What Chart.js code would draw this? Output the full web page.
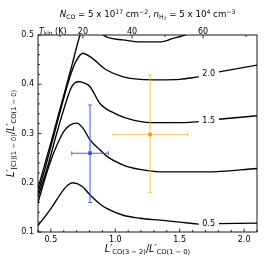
<!DOCTYPE html>
<html><head><meta charset="utf-8">
<script src="https://cdn.jsdelivr.net/npm/chart.js@4/dist/chart.umd.min.js"></script>
<style>html,body{margin:0;padding:0;background:#fff}canvas{display:block}</style>
</head><body>
<canvas id="c" width="266" height="266"></canvas>
<script>
// ---- contour curves (x = L'CO(3-2)/L'CO(1-0), y = L'[CI]/L'CO(1-0)); null = label gap
const curveA_x = [0.40, 0.493, 0.596, 0.63, 0.668, 0.742, 0.804, 0.881, 0.933, 1.062, 1.192, 1.347, 1.50, 1.648, 1.725, 1.805, 2.10];
const curveA_y = [0.113, 0.145, 0.185, 0.195, 0.200, 0.193, 0.175, 0.157, 0.148, 0.134, 0.128, 0.124, 0.120, 0.116, null, 0.117, 0.118];
const curveB_x = [0.40, 0.447, 0.493, 0.548, 0.602, 0.648, 0.700, 0.749, 0.804, 0.881, 0.933, 1.062, 1.192, 1.347, 1.45, 1.71, 2.10];
const curveB_y = [0.160, 0.202, 0.240, 0.277, 0.305, 0.317, 0.321, 0.311, 0.287, 0.267, 0.254, 0.236, 0.227, 0.222, 0.222, 0.222, 0.229];
const curveC_x = [0.40, 0.478, 0.548, 0.623, 0.656, 0.687, 0.718, 0.765, 0.804, 0.881, 1.011, 1.140, 1.270, 1.502, 1.648, 1.725, 1.805, 2.10];
const curveC_y = [0.171, 0.236, 0.303, 0.368, 0.392, 0.403, 0.405, 0.402, 0.395, 0.361, 0.339, 0.327, 0.322, 0.322, 0.324, null, 0.329, 0.336];
const curveD_x = [0.40, 0.462, 0.532, 0.596, 0.648, 0.695, 0.749, 0.804, 0.933, 1.062, 1.192, 1.347, 1.502, 1.648, 1.725, 1.805, 2.10];
const curveD_y = [0.179, 0.236, 0.305, 0.368, 0.415, 0.447, 0.463, 0.456, 0.429, 0.415, 0.410, 0.409, 0.410, 0.415, null, 0.425, 0.439];
const curveE_x = [0.40, 0.493, 0.586, 0.664, 0.726, 0.78, 0.84, 0.905, 1.06, 1.192, 1.347, 1.448, 1.541, 1.70, 2.10];
const curveE_y = [0.189, 0.275, 0.364, 0.439, 0.500, 0.535, 0.530, 0.500, 0.490, 0.486, 0.486, 0.493, 0.500, 0.515, 0.540];

// contour level labels
const levelText = ['0.5', '1.5', '2.0'];
const levelX = [1.725, 1.725, 1.725];
const levelY = [0.117, 0.326, 0.421];

// observed points with error bars
const obsX = [0.804, 1.270];
const obsY = [0.260, 0.298];
const obsXLo = [0.662, 0.985];
const obsXHi = [0.946, 1.562];
const obsYLo = [0.160, 0.180];
const obsYHi = [0.358, 0.419];

// tick labels
const xMajorTicks = [0.5, 1.0, 1.5, 2.0];
const yMajorTicks = [0.1, 0.2, 0.3, 0.4, 0.5];
const tkinValues = [10, 20, 30, 40, 50, 60, 70];
const tkinAtRatio = [0.571, 0.749, 0.928, 1.130, 1.386, 1.681, 2.015];
const tkinLabelled = [20, 40, 60];

const FONT = '"DejaVu Sans", Verdana, sans-serif';
const markerColors = ['#2f52e8', '#f99d12'];
const barColors = ['rgba(55,90,238,0.92)', 'rgba(255,180,70,0.78)'];

function pts(xs, ys) { return xs.map((x, i) => ({ x: x, y: ys[i] })); }
function curveDs(xs, ys) {
  return { type: 'line', data: pts(xs, ys), borderColor: '#000', borderWidth: 1.35, pointRadius: 0,
    cubicInterpolationMode: 'monotone', spanGaps: false, fill: false };
}

function drawRich(ctx, segs, x, y, align) {
  let w = 0;
  segs.forEach(s => { ctx.font = (s.i ? 'italic ' : '') + s.s + 'px ' + FONT; s.w = ctx.measureText(s.t).width; w += s.w; });
  let cx = align === 'center' ? x - w / 2 : x;
  ctx.textAlign = 'left'; ctx.textBaseline = 'alphabetic';
  segs.forEach(s => { ctx.font = (s.i ? 'italic ' : '') + s.s + 'px ' + FONT; ctx.fillText(s.t, cx, y + (s.dy || 0)); cx += s.w; });
}

const decor = {
  id: 'decor',
  beforeDatasetDraw(chart, args) {
    if (args.index !== 0) return;
    const ctx = chart.ctx, xs = chart.scales.x, ys = chart.scales.y;
    ctx.save();
    ctx.lineWidth = 1.1;
    for (let i = 0; i < obsX.length; i++) {
      ctx.strokeStyle = barColors[i];
      const px = xs.getPixelForValue(obsX[i]), py = ys.getPixelForValue(obsY[i]);
      const x1 = xs.getPixelForValue(obsXLo[i]), x2 = xs.getPixelForValue(obsXHi[i]);
      const y1 = ys.getPixelForValue(obsYLo[i]), y2 = ys.getPixelForValue(obsYHi[i]);
      ctx.beginPath();
      ctx.moveTo(x1, py); ctx.lineTo(x2, py);
      ctx.moveTo(px, y1); ctx.lineTo(px, y2);
      ctx.moveTo(x1, py - 2); ctx.lineTo(x1, py + 2);
      ctx.moveTo(x2, py - 2); ctx.lineTo(x2, py + 2);
      ctx.moveTo(px - 2, y1); ctx.lineTo(px + 2, y1);
      ctx.moveTo(px - 2, y2); ctx.lineTo(px + 2, y2);
      ctx.stroke();
    }
    ctx.restore();
  },
  afterDraw(chart) {
    const ctx = chart.ctx, a = chart.chartArea, xs = chart.scales.x, ys = chart.scales.y;
    ctx.save();
    ctx.fillStyle = '#000';
    ctx.font = '8px ' + FONT; ctx.textAlign = 'center'; ctx.textBaseline = 'middle';
    for (let i = 0; i < levelText.length; i++) {
      ctx.fillText(levelText[i], xs.getPixelForValue(levelX[i]), ys.getPixelForValue(levelY[i]));
    }
    // frame
    ctx.strokeStyle = '#000'; ctx.lineWidth = 0.9;
    ctx.strokeRect(a.left, a.top, a.right - a.left, a.bottom - a.top);
    // ticks (inward)
    ctx.lineWidth = 0.8;
    ctx.beginPath();
    for (let i = 4; i <= 21; i++) {
      const v = i / 10, p = xs.getPixelForValue(v), L = (i % 5 === 0) ? 3.5 : 2;
      ctx.moveTo(p, a.bottom); ctx.lineTo(p, a.bottom - L);
    }
    for (let i = 5; i <= 25; i++) {
      const v = i / 50, p = ys.getPixelForValue(v), L = (i % 5 === 0) ? 3.5 : 2;
      ctx.moveTo(a.left, p); ctx.lineTo(a.left + L, p);
    }
    for (let i = 0; i < tkinValues.length; i++) {
      const p = xs.getPixelForValue(tkinAtRatio[i]), L = tkinLabelled.includes(tkinValues[i]) ? 3.5 : 2;
      ctx.moveTo(p, a.top); ctx.lineTo(p, a.top + L);
    }
    ctx.stroke();
    // top axis labels
    ctx.font = '8px ' + FONT; ctx.textAlign = 'center'; ctx.textBaseline = 'alphabetic';
    for (let i = 0; i < tkinValues.length; i++) {
      if (tkinLabelled.includes(tkinValues[i])) ctx.fillText(String(tkinValues[i]), xs.getPixelForValue(tkinAtRatio[i]), a.top - 1.5);
    }
    drawRich(ctx, [{ t: 'T', s: 8, i: true }, { t: 'kin', s: 5.8, dy: 1.5 }, { t: ' (K)', s: 8 }], a.left + 1, a.top - 1.5, 'left');
    // title
    const cx = (a.left + a.right) / 2;
    drawRich(ctx, [
      { t: 'N', s: 8.7, i: true }, { t: 'CO', s: 6.1, dy: 1.8 },
      { t: ' = 5 x 10', s: 8.7 }, { t: '17', s: 6.1, dy: -3.5 }, { t: ' cm', s: 8.7 }, { t: '\u22122', s: 6.1, dy: -3.5 },
      { t: ', ', s: 8.7 }, { t: 'n', s: 8.7, i: true }, { t: 'H', s: 6.1, dy: 1.8 }, { t: '2', s: 4.4, dy: 3 },
      { t: ' = 5 x 10', s: 8.7 }, { t: '4', s: 6.1, dy: -3.5 }, { t: ' cm', s: 8.7 }, { t: '\u22123', s: 6.1, dy: -3.5 }
    ], cx, 17, 'center');
    // x label
    drawRich(ctx, [
      { t: 'L\u2032', s: 9.6, i: true }, { t: 'CO(3 \u2212 2)', s: 6.7, dy: 2.2 },
      { t: '/', s: 9.6 }, { t: 'L\u2032', s: 9.6, i: true }, { t: 'CO(1 \u2212 0)', s: 6.7, dy: 2.2 }
    ], cx, 252, 'center');
    // y label
    ctx.translate(14, (a.top + a.bottom) / 2);
    ctx.rotate(-Math.PI / 2);
    drawRich(ctx, [
      { t: 'L\u2032', s: 9.6, i: true }, { t: '[CI](1 \u2212 0)', s: 6.7, dy: 2.2 },
      { t: '/', s: 9.6 }, { t: 'L\u2032', s: 9.6, i: true }, { t: 'CO(1 \u2212 0)', s: 6.7, dy: 2.2 }
    ], 0, 0, 'center');
    ctx.restore();
  }
};

new Chart(document.getElementById('c'), {
  data: {
    datasets: [
      { type: 'scatter', data: pts(obsX, obsY), pointStyle: 'rect', pointRadius: 2.6,
        backgroundColor: markerColors, borderColor: markerColors, borderWidth: 0 },
      curveDs(curveA_x, curveA_y),
      curveDs(curveB_x, curveB_y),
      curveDs(curveC_x, curveC_y),
      curveDs(curveD_x, curveD_y),
      curveDs(curveE_x, curveE_y)
    ]
  },
  options: {
    responsive: false, animation: false, events: [],
    layout: { padding: { top: 35, right: 9, left: 0, bottom: 0 } },
    plugins: { legend: { display: false }, tooltip: { enabled: false }, title: { display: false } },
    scales: {
      x: { type: 'linear', min: 0.4, max: 2.1,
        afterBuildTicks: s => { s.ticks = xMajorTicks.map(v => ({ value: v })); },
        afterFit: s => { s.height = 34; },
        grid: { display: false, drawTicks: false }, border: { display: false },
        ticks: { padding: 3, color: '#000', font: { family: FONT, size: 8 }, callback: v => Number(v).toFixed(1), maxRotation: 0 } },
      y: { type: 'linear', min: 0.1, max: 0.5,
        afterBuildTicks: s => { s.ticks = yMajorTicks.map(v => ({ value: v })); },
        afterFit: s => { s.width = 38; },
        grid: { display: false, drawTicks: false }, border: { display: false },
        ticks: { padding: 4, color: '#000', font: { family: FONT, size: 8 }, callback: v => Number(v).toFixed(1) } }
    }
  },
  plugins: [decor]
});
</script>
</body></html>
